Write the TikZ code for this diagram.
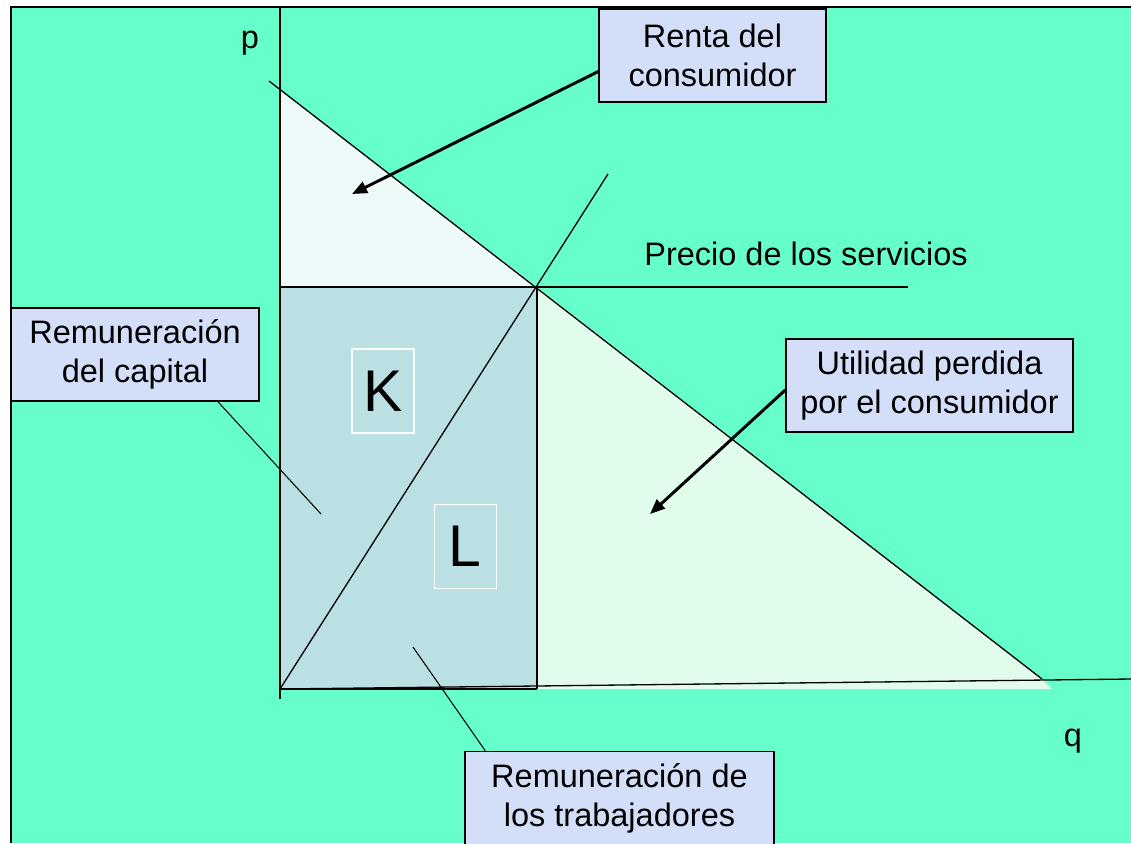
\documentclass[tikz,border=0pt]{standalone}
\usepackage{fontspec}
\setmainfont{Liberation Sans}
\usepackage{tikz}
\usetikzlibrary{arrows.meta, positioning, calc}
\definecolor{mintbg}{RGB}{102, 255, 204}
\definecolor{boxblue}{RGB}{211, 222, 248}
\definecolor{payblue}{RGB}{187, 224, 227}
\definecolor{surplus}{RGB}{238, 249, 249}
\definecolor{lossgreen}{RGB}{226, 252, 236}

\begin{document}
\begin{tikzpicture}[x=0.02cm, y=-0.02cm, >={Triangle[length=0.3cm, width=0.24cm]}, line width=0.75pt,
  font=\fontsize{18.5}{22.2}\selectfont,
  labelbox/.style={draw, fill=boxblue, line width=0.9pt, inner sep=0pt, minimum height=1.86cm, align=center},
  factor/.style={draw=white, line width=0.6pt, inner sep=0pt, minimum width=1.24cm, minimum height=1.68cm, font=\fontsize{33.5}{40}\selectfont},
  fat/.style={->, line width=1.7pt},
  lead/.style={line width=0.6pt}]
        \useasboundingbox (0,0) rectangle (1131,843);
        \clip (0,0) rectangle (1131,843);
        \fill[white] (0,0) rectangle (1131,843);
        \fill[mintbg] (11,7) rectangle (1131,843);
        \draw[line width=1.2pt] (11,843) -- (11,7) -- (1131,7);
        \coordinate (O) at (280,689);
        \coordinate (E) at (537,287);
        \coordinate (pE) at (280,287);
        \coordinate (qE) at (537,689);
        \coordinate (pInt) at (280,90);
        \coordinate (dTop) at (269,81);
        \coordinate (dEnd) at (1042,679);
        \coordinate (sTop) at (608,174);
        \coordinate (pEnd) at (908,287);
        \coordinate (pAxis) at (280,7);
        \coordinate (pTick) at (280,699);
        \coordinate (qAxis) at (1131,679);
        \fill[surplus] (pInt) -- (E) -- (pE) -- cycle;
        \fill[payblue] (pE) rectangle (qE);
        \fill[lossgreen] (E) -- (dEnd) -- (1052,689) -- (qE) -- cycle;
        \draw (pAxis) -- (pTick);
        \draw (O) -- (qE);
        \draw (O) -- (qAxis);
        \draw (pE) -- (pEnd);
        \draw (E) -- (qE);
        \draw (dTop) -- (dEnd);
        \draw (O) -- (sTop);
        \node[anchor=base] (pLab) at (250,48) {p};
        \node[anchor=base] (qLab) at (1073,746) {q};
        \node[anchor=base] (precio) at (806,265) {Precio de los servicios};
        \node[factor] (K) at (383,391) {K};
        \node[factor, below right=1.4cm and 0.38cm of K] (L) {L};
        \node[labelbox, minimum width=4.54cm] (renta) at (712.5,55.5) {Renta del\\consumidor};
        \node[labelbox, minimum width=4.96cm] (capital) at (135,354.5) {Remuneración\\del capital};
        \node[labelbox, minimum width=5.74cm] (util) at (929.5,385.5) {Utilidad perdida\\por el consumidor};
        \coordinate (rentaTip) at (352,194);
        \coordinate (utilTip) at (650,514);
        \coordinate (capEnd) at (321,514);
        \coordinate (trabEnd) at (413,647);
        \draw[fat] ($(renta.west)+(0,16)$) -- (rentaTip);
        \draw[fat] ($(util.west)+(0,4.5)$) -- (utilTip);
        \draw[lead] ($(capital.south)+(83,0)$) -- (capEnd);
        \node[labelbox, minimum width=6.18cm] (trab) at (619.5,798) {Remuneración de\\los trabajadores};
        \draw[lead] ($(trab.north west)+(21,0)$) -- (trabEnd);
      \end{tikzpicture}
\end{document}
